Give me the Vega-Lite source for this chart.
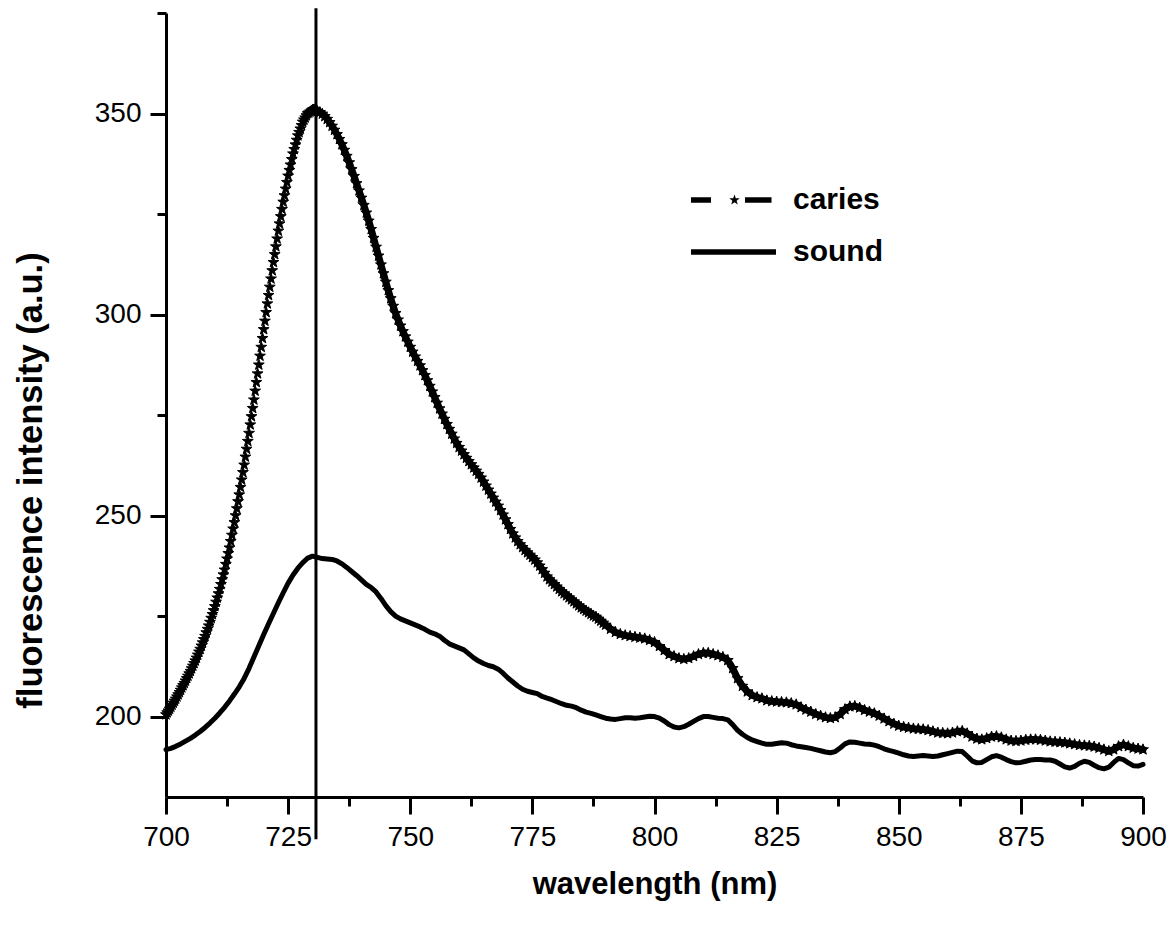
{
"$schema": "https://vega.github.io/schema/vega-lite/v6.json",
"width": 977, "height": 784,
"autosize": {"type": "none"},
"padding": {"left": 166, "top": 13, "right": 31, "bottom": 133},
"background": "white",
"config": {"view": {"stroke": null}, "font": "Liberation Sans",
  "axis": {"grid": false, "domainColor": "black", "domainWidth": 3, "tickColor": "black", "tickWidth": 3,
    "labelFont": "Liberation Sans", "labelFontSize": 28, "labelColor": "black", "labelFlush": false, "labelOverlap": false,
    "titleFont": "Liberation Sans", "titleFontWeight": "bold", "titleColor": "black"}},
"datasets": {
"caries": [
{"nm":700,"v":200.5},{"nm":700.25,"v":201.0},{"nm":700.5,"v":201.45},{"nm":700.75,"v":201.9},
{"nm":701,"v":202.4},{"nm":701.25,"v":202.9},{"nm":701.5,"v":203.4},{"nm":701.75,"v":203.9},
{"nm":702,"v":204.4},{"nm":702.25,"v":204.95},{"nm":702.5,"v":205.5},{"nm":702.75,"v":206.05},
{"nm":703,"v":206.6},{"nm":703.25,"v":207.2},{"nm":703.5,"v":207.75},{"nm":703.75,"v":208.3},
{"nm":704,"v":208.9},{"nm":704.25,"v":209.5},{"nm":704.5,"v":210.1},{"nm":704.75,"v":210.7},
{"nm":705,"v":211.3},{"nm":705.25,"v":211.95},{"nm":705.5,"v":212.6},{"nm":705.75,"v":213.25},
{"nm":706,"v":213.9},{"nm":706.25,"v":214.6},{"nm":706.5,"v":215.35},{"nm":706.75,"v":216.1},
{"nm":707,"v":216.8},{"nm":707.25,"v":217.6},{"nm":707.5,"v":218.4},{"nm":707.75,"v":219.2},
{"nm":708,"v":220.0},{"nm":708.25,"v":220.9},{"nm":708.5,"v":221.75},{"nm":708.75,"v":222.6},
{"nm":709,"v":223.5},{"nm":709.25,"v":224.5},{"nm":709.5,"v":225.45},{"nm":709.75,"v":226.4},
{"nm":710,"v":227.4},{"nm":710.25,"v":228.5},{"nm":710.5,"v":229.55},{"nm":710.75,"v":230.6},
{"nm":711,"v":231.7},{"nm":711.25,"v":232.9},{"nm":711.5,"v":234.1},{"nm":711.75,"v":235.3},
{"nm":712,"v":236.5},{"nm":712.25,"v":237.9},{"nm":712.5,"v":239.25},{"nm":712.75,"v":240.6},
{"nm":713,"v":242.0},{"nm":713.25,"v":243.6},{"nm":713.5,"v":245.15},{"nm":713.75,"v":246.7},
{"nm":714,"v":248.3},{"nm":714.25,"v":250.0},{"nm":714.5,"v":251.75},{"nm":714.75,"v":253.5},
{"nm":715,"v":255.2},{"nm":715.25,"v":257.05},{"nm":715.5,"v":258.9},{"nm":715.75,"v":260.75},
{"nm":716,"v":262.6},{"nm":716.25,"v":264.6},{"nm":716.5,"v":266.55},{"nm":716.75,"v":268.5},
{"nm":717,"v":270.5},{"nm":717.25,"v":272.6},{"nm":717.5,"v":274.65},{"nm":717.75,"v":276.7},
{"nm":718,"v":278.8},{"nm":718.25,"v":281.0},{"nm":718.5,"v":283.15},{"nm":718.75,"v":285.3},
{"nm":719,"v":287.5},{"nm":719.25,"v":289.7},{"nm":719.5,"v":291.9},{"nm":719.75,"v":294.1},
{"nm":720,"v":296.3},{"nm":720.25,"v":298.4},{"nm":720.5,"v":300.55},{"nm":720.75,"v":302.7},
{"nm":721,"v":304.8},{"nm":721.25,"v":306.85},{"nm":721.5,"v":308.9},{"nm":721.75,"v":310.95},
{"nm":722,"v":313.0},{"nm":722.25,"v":314.95},{"nm":722.5,"v":316.9},{"nm":722.75,"v":318.85},
{"nm":723,"v":320.8},{"nm":723.25,"v":322.6},{"nm":723.5,"v":324.4},{"nm":723.75,"v":326.2},
{"nm":724,"v":328.0},{"nm":724.25,"v":329.6},{"nm":724.5,"v":331.25},{"nm":724.75,"v":332.9},
{"nm":725,"v":334.5},{"nm":725.25,"v":335.9},{"nm":725.5,"v":337.25},{"nm":725.75,"v":338.6},
{"nm":726,"v":340.0},{"nm":726.25,"v":341.1},{"nm":726.5,"v":342.25},{"nm":726.75,"v":343.4},
{"nm":727,"v":344.5},{"nm":727.25,"v":345.35},{"nm":727.5,"v":346.2},{"nm":727.75,"v":347.05},
{"nm":728,"v":347.9},{"nm":728.25,"v":348.45},{"nm":728.5,"v":348.95},{"nm":728.75,"v":349.5},
{"nm":729,"v":350.0},{"nm":729.25,"v":350.2},{"nm":729.5,"v":350.45},{"nm":729.75,"v":350.7},
{"nm":730,"v":350.9},{"nm":730.25,"v":350.95},{"nm":730.5,"v":351.0},
{"nm":731,"v":350.6},{"nm":731.5,"v":350.3},{"nm":732,"v":349.9},{"nm":732.5,"v":349.3},
{"nm":733,"v":348.6},{"nm":733.5,"v":347.8},{"nm":734,"v":346.9},{"nm":734.5,"v":345.9},
{"nm":735,"v":344.8},{"nm":735.5,"v":343.6},{"nm":736,"v":342.3},{"nm":736.5,"v":340.9},
{"nm":737,"v":339.4},{"nm":737.5,"v":337.8},{"nm":738,"v":336.1},{"nm":738.5,"v":334.4},
{"nm":739,"v":332.6},{"nm":739.5,"v":330.8},{"nm":740,"v":329.0},{"nm":740.5,"v":327.2},
{"nm":741,"v":325.3},{"nm":741.5,"v":323.3},{"nm":742,"v":321.2},{"nm":742.5,"v":319.0},
{"nm":743,"v":316.8},{"nm":743.5,"v":314.6},{"nm":744,"v":312.4},{"nm":744.5,"v":310.2},
{"nm":745,"v":308.1},{"nm":745.5,"v":306.0},{"nm":746,"v":304.0},{"nm":746.5,"v":302.1},
{"nm":747,"v":300.3},{"nm":747.5,"v":298.7},{"nm":748,"v":297.2},{"nm":748.5,"v":295.8},
{"nm":749,"v":294.5},{"nm":749.5,"v":293.2},{"nm":750,"v":291.9},{"nm":750.5,"v":290.7},
{"nm":751,"v":289.5},{"nm":751.5,"v":288.4},{"nm":752,"v":287.3},{"nm":752.5,"v":286.1},
{"nm":753,"v":284.9},{"nm":753.5,"v":283.6},{"nm":754,"v":282.2},{"nm":754.5,"v":280.8},
{"nm":755,"v":279.4},{"nm":755.5,"v":278.0},{"nm":756,"v":276.6},{"nm":756.5,"v":275.3},
{"nm":757,"v":274.0},{"nm":757.5,"v":272.7},{"nm":758,"v":271.5},{"nm":758.5,"v":270.3},
{"nm":759,"v":269.1},{"nm":759.5,"v":268.0},{"nm":760,"v":267.0},{"nm":760.5,"v":266.1},
{"nm":761,"v":265.2},{"nm":761.5,"v":264.3},{"nm":762,"v":263.5},{"nm":762.5,"v":262.7},
{"nm":763,"v":261.9},{"nm":763.5,"v":261.1},{"nm":764,"v":260.3},{"nm":764.5,"v":259.4},
{"nm":765,"v":258.4},{"nm":765.5,"v":257.4},{"nm":766,"v":256.4},{"nm":766.5,"v":255.4},
{"nm":767,"v":254.4},{"nm":767.5,"v":253.4},{"nm":768,"v":252.4},{"nm":768.5,"v":251.3},
{"nm":769,"v":250.2},{"nm":769.5,"v":249.0},{"nm":770,"v":247.8},{"nm":770.5,"v":246.6},
{"nm":771,"v":245.5},{"nm":771.5,"v":244.5},{"nm":772,"v":243.6},{"nm":772.5,"v":242.8},
{"nm":773,"v":242.1},{"nm":773.5,"v":241.4},{"nm":774,"v":240.8},{"nm":774.5,"v":240.2},
{"nm":775,"v":239.6},{"nm":775.5,"v":239.0},{"nm":776,"v":238.3},{"nm":776.5,"v":237.5},
{"nm":777,"v":236.6},{"nm":777.5,"v":235.7},{"nm":778,"v":234.8},{"nm":778.5,"v":234.1},
{"nm":779,"v":233.5},{"nm":779.5,"v":232.9},{"nm":780,"v":232.3},{"nm":780.5,"v":231.7},
{"nm":781,"v":231.1},{"nm":781.5,"v":230.6},{"nm":782,"v":230.1},{"nm":782.5,"v":229.6},
{"nm":783,"v":229.1},{"nm":783.5,"v":228.6},{"nm":784,"v":228.1},{"nm":784.5,"v":227.6},
{"nm":785,"v":227.1},{"nm":785.5,"v":226.7},{"nm":786,"v":226.3},{"nm":786.5,"v":225.9},
{"nm":787,"v":225.5},{"nm":787.5,"v":225.1},{"nm":788,"v":224.8},{"nm":788.5,"v":224.3},
{"nm":789,"v":223.8},{"nm":789.5,"v":223.3},{"nm":790,"v":222.8},
{"nm":791,"v":221.8},{"nm":792,"v":221.0},{"nm":793,"v":220.5},{"nm":794,"v":220.2},{"nm":795,"v":220.0},
{"nm":796,"v":219.8},{"nm":797,"v":219.6},{"nm":798,"v":219.4},{"nm":799,"v":219.0},{"nm":800,"v":218.5},
{"nm":801,"v":217.5},{"nm":802,"v":216.5},{"nm":803,"v":215.5},{"nm":804,"v":215.0},{"nm":805,"v":214.5},
{"nm":806,"v":214.3},{"nm":807,"v":214.5},{"nm":808,"v":215.0},{"nm":809,"v":215.5},{"nm":810,"v":215.8},
{"nm":811,"v":215.8},{"nm":812,"v":215.5},{"nm":813,"v":215.2},{"nm":814,"v":214.8},{"nm":815,"v":214.0},
{"nm":816,"v":212.0},{"nm":817,"v":209.5},{"nm":818,"v":207.6},{"nm":819,"v":206.2},{"nm":820,"v":205.3},
{"nm":821,"v":204.8},{"nm":822,"v":204.5},{"nm":823,"v":204.0},{"nm":824,"v":203.8},{"nm":825,"v":203.7},
{"nm":826,"v":203.6},{"nm":827,"v":203.5},{"nm":828,"v":203.3},{"nm":829,"v":203.0},{"nm":830,"v":202.3},
{"nm":831,"v":201.7},{"nm":832,"v":201.2},{"nm":833,"v":200.6},{"nm":834,"v":200.2},{"nm":835,"v":199.8},
{"nm":836,"v":199.6},{"nm":837,"v":199.8},{"nm":838,"v":200.6},{"nm":839,"v":201.8},{"nm":840,"v":202.5},
{"nm":841,"v":202.6},{"nm":842,"v":202.2},{"nm":843,"v":201.6},{"nm":844,"v":201.2},{"nm":845,"v":200.8},
{"nm":846,"v":200.2},{"nm":847,"v":199.5},{"nm":848,"v":198.8},{"nm":849,"v":198.2},{"nm":850,"v":197.7},
{"nm":851,"v":197.4},{"nm":852,"v":197.2},{"nm":853,"v":197.0},{"nm":854,"v":196.9},{"nm":855,"v":196.8},
{"nm":856,"v":196.6},{"nm":857,"v":196.3},{"nm":858,"v":196.0},{"nm":859,"v":195.9},{"nm":860,"v":195.8},
{"nm":861,"v":196.0},{"nm":862,"v":196.3},{"nm":863,"v":196.4},{"nm":864,"v":195.8},{"nm":865,"v":195.0},
{"nm":866,"v":194.5},{"nm":867,"v":194.3},{"nm":868,"v":194.6},{"nm":869,"v":195.0},{"nm":870,"v":195.1},
{"nm":871,"v":194.8},{"nm":872,"v":194.3},{"nm":873,"v":194.0},{"nm":874,"v":193.9},{"nm":875,"v":194.0},
{"nm":876,"v":194.2},{"nm":877,"v":194.3},{"nm":878,"v":194.3},{"nm":879,"v":194.2},{"nm":880,"v":194.0},
{"nm":881,"v":193.8},{"nm":882,"v":193.7},{"nm":883,"v":193.6},{"nm":884,"v":193.5},{"nm":885,"v":193.3},
{"nm":886,"v":193.1},{"nm":887,"v":192.9},{"nm":888,"v":192.8},{"nm":889,"v":192.7},{"nm":890,"v":192.5},
{"nm":891,"v":192.2},{"nm":892,"v":191.8},{"nm":893,"v":191.4},{"nm":894,"v":191.8},{"nm":895,"v":192.6},
{"nm":896,"v":193.0},{"nm":897,"v":192.6},{"nm":898,"v":192.2},{"nm":899,"v":192.0},{"nm":900,"v":191.8}
],
"sound": [
{"nm":700,"v":191.8},{"nm":701,"v":192.1},{"nm":702,"v":192.6},{"nm":703,"v":193.2},{"nm":704,"v":193.9},
{"nm":705,"v":194.6},{"nm":706,"v":195.4},{"nm":707,"v":196.3},{"nm":708,"v":197.3},{"nm":709,"v":198.4},
{"nm":710,"v":199.6},{"nm":711,"v":200.9},{"nm":712,"v":202.3},{"nm":713,"v":203.9},{"nm":714,"v":205.6},
{"nm":715,"v":207.4},{"nm":716,"v":209.5},{"nm":717,"v":212.0},{"nm":718,"v":214.8},{"nm":719,"v":217.6},
{"nm":720,"v":220.4},{"nm":721,"v":223.1},{"nm":722,"v":225.7},{"nm":723,"v":228.3},{"nm":724,"v":230.8},
{"nm":725,"v":233.2},{"nm":726,"v":235.2},{"nm":727,"v":236.9},{"nm":728,"v":238.3},{"nm":729,"v":239.4},
{"nm":730,"v":239.9},{"nm":731,"v":239.6},{"nm":732,"v":239.3},{"nm":733,"v":239.2},{"nm":734,"v":239.1},
{"nm":735,"v":238.7},{"nm":736,"v":238.0},{"nm":737,"v":237.1},{"nm":738,"v":236.1},{"nm":739,"v":235.1},
{"nm":740,"v":234.0},{"nm":741,"v":232.9},{"nm":742,"v":232.1},{"nm":743,"v":231.0},{"nm":744,"v":229.4},
{"nm":745,"v":227.6},{"nm":746,"v":226.1},{"nm":747,"v":225.0},{"nm":748,"v":224.3},{"nm":749,"v":223.8},
{"nm":750,"v":223.3},{"nm":751,"v":222.8},{"nm":752,"v":222.3},{"nm":753,"v":221.7},{"nm":754,"v":221.0},
{"nm":755,"v":220.6},{"nm":756,"v":220.0},{"nm":757,"v":219.0},{"nm":758,"v":218.1},{"nm":759,"v":217.6},
{"nm":760,"v":217.1},{"nm":761,"v":216.6},{"nm":762,"v":215.6},{"nm":763,"v":214.6},{"nm":764,"v":213.8},
{"nm":765,"v":213.2},{"nm":766,"v":212.7},{"nm":767,"v":212.4},{"nm":768,"v":211.8},{"nm":769,"v":210.8},
{"nm":770,"v":209.6},{"nm":771,"v":208.6},{"nm":772,"v":207.6},{"nm":773,"v":206.8},{"nm":774,"v":206.3},
{"nm":775,"v":206.0},{"nm":776,"v":205.7},{"nm":777,"v":205.0},{"nm":778,"v":204.6},{"nm":779,"v":204.2},
{"nm":780,"v":203.7},{"nm":781,"v":203.2},{"nm":782,"v":202.8},{"nm":783,"v":202.6},{"nm":784,"v":202.2},
{"nm":785,"v":201.6},{"nm":786,"v":201.1},{"nm":787,"v":200.8},{"nm":788,"v":200.4},{"nm":789,"v":200.0},
{"nm":790,"v":199.6},{"nm":791,"v":199.4},{"nm":792,"v":199.3},{"nm":793,"v":199.5},{"nm":794,"v":199.7},
{"nm":795,"v":199.7},{"nm":796,"v":199.6},{"nm":797,"v":199.7},{"nm":798,"v":199.9},{"nm":799,"v":200.1},
{"nm":800,"v":200.0},{"nm":801,"v":199.6},{"nm":802,"v":198.9},{"nm":803,"v":198.0},{"nm":804,"v":197.4},
{"nm":805,"v":197.2},{"nm":806,"v":197.5},{"nm":807,"v":198.1},{"nm":808,"v":198.8},{"nm":809,"v":199.5},
{"nm":810,"v":200.0},{"nm":811,"v":200.0},{"nm":812,"v":199.8},{"nm":813,"v":199.6},{"nm":814,"v":199.5},
{"nm":815,"v":199.2},{"nm":816,"v":198.0},{"nm":817,"v":196.6},{"nm":818,"v":195.6},{"nm":819,"v":194.8},
{"nm":820,"v":194.2},{"nm":821,"v":193.8},{"nm":822,"v":193.4},{"nm":823,"v":193.1},{"nm":824,"v":193.1},
{"nm":825,"v":193.3},{"nm":826,"v":193.5},{"nm":827,"v":193.4},{"nm":828,"v":193.0},{"nm":829,"v":192.7},
{"nm":830,"v":192.5},{"nm":831,"v":192.3},{"nm":832,"v":192.1},{"nm":833,"v":191.8},{"nm":834,"v":191.5},
{"nm":835,"v":191.2},{"nm":836,"v":191.0},{"nm":837,"v":191.3},{"nm":838,"v":192.2},{"nm":839,"v":193.2},
{"nm":840,"v":193.7},{"nm":841,"v":193.6},{"nm":842,"v":193.4},{"nm":843,"v":193.2},{"nm":844,"v":193.1},
{"nm":845,"v":192.9},{"nm":846,"v":192.5},{"nm":847,"v":192.0},{"nm":848,"v":191.6},{"nm":849,"v":191.3},
{"nm":850,"v":190.9},{"nm":851,"v":190.5},{"nm":852,"v":190.2},{"nm":853,"v":190.1},{"nm":854,"v":190.2},
{"nm":855,"v":190.3},{"nm":856,"v":190.2},{"nm":857,"v":190.1},{"nm":858,"v":190.2},{"nm":859,"v":190.5},
{"nm":860,"v":190.8},{"nm":861,"v":191.1},{"nm":862,"v":191.4},{"nm":863,"v":191.3},{"nm":864,"v":190.2},
{"nm":865,"v":189.0},{"nm":866,"v":188.5},{"nm":867,"v":188.6},{"nm":868,"v":189.3},{"nm":869,"v":190.0},
{"nm":870,"v":190.3},{"nm":871,"v":189.9},{"nm":872,"v":189.3},{"nm":873,"v":188.8},{"nm":874,"v":188.5},
{"nm":875,"v":188.6},{"nm":876,"v":188.9},{"nm":877,"v":189.2},{"nm":878,"v":189.3},{"nm":879,"v":189.3},
{"nm":880,"v":189.2},{"nm":881,"v":189.2},{"nm":882,"v":188.9},{"nm":883,"v":188.2},{"nm":884,"v":187.5},
{"nm":885,"v":187.2},{"nm":886,"v":187.6},{"nm":887,"v":188.4},{"nm":888,"v":188.9},{"nm":889,"v":188.6},
{"nm":890,"v":187.9},{"nm":891,"v":187.3},{"nm":892,"v":187.0},{"nm":893,"v":187.4},{"nm":894,"v":188.6},
{"nm":895,"v":189.6},{"nm":896,"v":189.3},{"nm":897,"v":188.5},{"nm":898,"v":187.8},{"nm":899,"v":187.7},
{"nm":900,"v":188.1}
]
},
"resolve": {"axis": {"x": "independent", "y": "independent"}},
"layer": [
  {"data": {"name": "sound"},
   "mark": {"type": "line", "color": "black", "strokeWidth": 5, "strokeJoin": "round", "strokeCap": "round"},
   "encoding": {
     "x": {"field": "nm", "type": "quantitative", "scale": {"domain": [700, 900], "nice": false, "zero": false},
       "axis": {"orient": "bottom", "title": "wavelength (nm)", "titleFontSize": 31, "titlePadding": 18,
         "values": [700,725,750,775,800,825,850,875,900], "tickSize": 17, "labelPadding": 9}},
     "y": {"field": "v", "type": "quantitative", "scale": {"domain": [180, 375], "nice": false, "zero": false},
       "axis": {"orient": "left", "title": "fluorescence intensity (a.u.)", "titleFontSize": 34.5, "titlePadding": 46, "titleY": 467,
         "values": [200,250,300,350], "tickSize": 16, "labelPadding": 9}}
   }},
  {"data": {"name": "caries"},
   "transform": [{"filter": "datum.nm >= 730.5"}],
   "mark": {"type": "line", "color": "black", "strokeWidth": 7, "strokeJoin": "round", "strokeCap": "round"},
   "encoding": {
     "x": {"field": "nm", "type": "quantitative",
       "axis": {"orient": "bottom", "title": null, "domain": false, "labels": false, "tickSize": 9,
         "values": [712.5,737.5,762.5,787.5,812.5,837.5,862.5,887.5]}},
     "y": {"field": "v", "type": "quantitative",
       "axis": {"orient": "left", "title": null, "domain": false, "labels": false, "tickSize": 9,
         "values": [225,275,325,375]}}
   }},
  {"data": {"name": "caries"},
   "mark": {"type": "point", "shape": "M0,-1L0.235,-0.324L0.951,-0.309L0.38,0.124L0.588,0.809L0,0.4L-0.588,0.809L-0.38,0.124L-0.951,-0.309L-0.235,-0.324Z",
     "filled": true, "fill": "black", "stroke": "black", "strokeWidth": 1, "opacity": 1, "size": 130},
   "encoding": {
     "x": {"field": "nm", "type": "quantitative", "axis": null},
     "y": {"field": "v", "type": "quantitative", "axis": null}
   }},
  {"data": {"values": [{"nm": 730.7}]},
   "mark": {"type": "rule", "clip": false, "color": "black", "strokeWidth": 3},
   "encoding": {
     "x": {"field": "nm", "type": "quantitative", "axis": null},
     "y": {"datum": 376.2, "type": "quantitative", "axis": null},
     "y2": {"datum": 169.5}
   }},
  {"data": {"name": "sound"},
   "transform": [{"filter": "datum.nm < 0"}],
   "mark": {"type": "point", "filled": true, "color": "black", "opacity": 1},
   "encoding": {
     "x": {"field": "nm", "type": "quantitative", "axis": null},
     "y": {"field": "v", "type": "quantitative", "axis": null},
     "shape": {"datum": "caries", "type": "nominal",
       "scale": {"domain": ["caries", "sound"],
         "range": ["M-8.5,-0.55H-4.5V0.55H-8.5Z M2.3,-0.55H7.6V0.55H2.3Z M0.2,-1.1L0.46,-0.36L1.25,-0.34L0.62,0.14L0.85,0.89L0.2,0.44L-0.45,0.89L-0.22,0.14L-0.85,-0.34L-0.06,-0.36Z",
                   "M-8.5,-0.55H8.5V0.55H-8.5Z"]},
       "legend": {"title": null, "orient": "none", "legendX": 552.5, "legendY": 172, "padding": 0,
         "symbolSize": 100, "symbolFillColor": "black", "symbolStrokeColor": "black", "symbolStrokeWidth": 0, "symbolOpacity": 1,
         "labelFont": "Liberation Sans", "labelFontSize": 30, "labelFontWeight": "bold", "labelColor": "black",
         "labelOffset": 44.5, "symbolOffset": 0, "rowPadding": 22, "labelLimit": 300}}
   }}
]
}
